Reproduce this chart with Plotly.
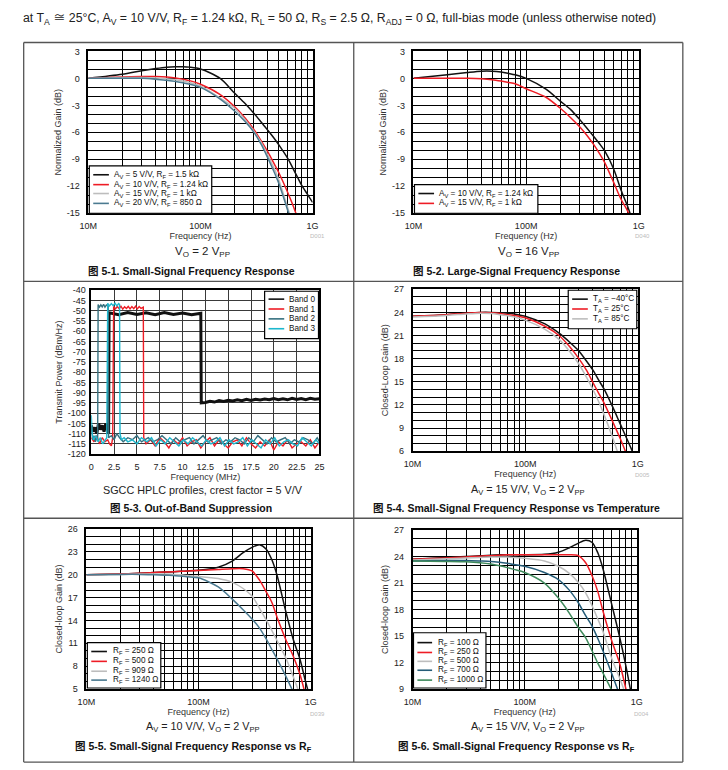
import plotly.graph_objects as go

W, H = 728, 770
FONT = "Liberation Sans, Arial, Noto Sans CJK SC, sans-serif"

# ---------------- data ----------------
FREQ_MHZ = [10, 20, 30, 40, 50, 60, 70, 80, 100, 150, 200, 250, 300, 350, 400, 450, 500, 600, 700, 800, 900, 1000]
FREQ_TICKS = [10, 100, 1000]
FREQ_TICK_TEXT = ["10M", "100M", "1G"]
FREQ_MINOR = [20, 30, 40, 50, 60, 70, 80, 90, 200, 300, 400, 500, 600, 700, 800, 900]

# Fig 5-1 (normalized gain, dB)
G1_AV5 = [0, 0.45, 0.85, 1.1, 1.25, 1.3, 1.3, 1.25, 1.05, 0.0, -1.6, -2.8, -3.9, -4.9, -5.8, -6.6, -7.4, -8.9, -10.5, -11.9, -12.9, -13.8]
G1_AV10 = [0, 0.15, 0.2, 0.2, 0.15, 0.05, -0.1, -0.25, -0.65, -1.8, -3.1, -4.4, -5.7, -7.0, -8.2, -9.4, -10.5, -12.7, -14.8, -17.0, None, None]
G1_AV15 = [0, 0.1, 0.1, 0.05, -0.05, -0.15, -0.3, -0.45, -0.85, -2.2, -3.3, -4.6, -5.9, -7.2, -8.6, -9.9, -11.3, -14.4, -17.0, None, None, None]
G1_AV20 = [0, 0.02, 0.0, -0.1, -0.2, -0.35, -0.5, -0.65, -1.0, -2.3, -3.6, -4.8, -6.0, -7.4, -8.9, -10.3, -11.7, -14.7, -17.5, None, None, None]

# Fig 5-2 (normalized gain, dB)
G2_AV10 = [0, 0.4, 0.65, 0.8, 0.8, 0.7, 0.55, 0.4, 0.0, -1.2, -2.5, -3.5, -4.6, -5.6, -6.5, -7.3, -8.1, -10.1, -12.5, -14.3, -16.2, None]
G2_AV15 = [0, 0.02, 0.0, -0.05, -0.15, -0.3, -0.45, -0.6, -1.15, -2.1, -3.3, -4.4, -5.4, -6.4, -7.4, -8.4, -9.4, -11.6, -13.5, -14.8, -16.5, None]

# Fig 5-3 (transmit power, dBm/Hz vs MHz)
B0_F = [0, 0.2, 0.4, 0.6, 0.8, 1.0, 1.2, 1.4, 1.6, 1.8, 1.9,
        1.95, 3, 4, 5, 6, 7, 8, 9, 10, 11, 12.0,
        12.05, 12.5, 13.0, 13.5, 14.0, 14.5, 15.0, 15.5, 16.0, 16.5, 17.0, 17.5, 18.0, 18.5,
        19.0, 19.5, 20.0, 20.5, 21.0, 21.5, 22.0, 22.5, 23.0, 23.5, 24.0, 24.5, 25.0]
B0_P = [-106, -109, -107, -110, -105, -108, -106, -109, -105, -108, -110,
        -51.0, -51.9, -50.9, -51.8, -51.0, -51.9, -50.9, -51.8, -51.1, -51.9, -51.2,
        -95, -94.8, -94.2, -94.6, -93.9, -94.3, -93.7, -94.1, -93.5, -93.9, -93.3, -93.8, -93.2, -93.6,
        -93.1, -93.5, -92.9, -93.4, -93.0, -93.5, -92.8, -93.3, -92.9, -93.4, -92.8, -93.2, -93.0]

B1_F = [0, 0.3, 0.6, 0.9, 1.2, 1.5, 1.8, 2.0, 2.2, 2.35,
        2.45, 2.65, 2.85, 3.05, 3.25, 3.45, 3.65, 3.85, 4.05, 4.25, 4.45, 4.65, 4.85, 5.05, 5.25, 5.45, 5.7,
        5.75, 6.0, 6.5, 7.0, 7.5, 8.0, 8.5, 9.0, 9.5, 10.0, 10.5, 11.0, 11.5, 12.0, 12.5, 13.0,
        13.5, 14.0, 14.5, 15.0, 15.5, 16.0, 16.5, 17.0, 17.5, 18.0, 18.5, 19.0, 19.5, 20.0, 20.5,
        21.0, 21.5, 22.0, 22.5, 23.0, 23.5, 24.0, 24.5, 25.0]
B1_P = [-112, -114, -111, -115, -112, -114, -113, -115, -116, -112,
        -47.9, -49.1, -48.0, -49.0, -47.8, -49.2, -48.1, -48.9, -47.9, -49.1, -48.0, -49.0, -47.8, -49.1, -48.0, -48.9, -48.3,
        -112, -115, -113, -116, -112, -114, -117, -113, -115, -112, -116, -114, -113, -117, -114, -112,
        -116, -113, -115, -117, -114, -113, -116, -112, -115, -117, -114, -116, -113, -118, -114,
        -116, -113, -117, -115, -114, -116, -113, -117, -114]

B2_F = [0, 0.15, 0.3, 0.45, 0.6, 0.7,
        0.75, 0.9, 1.05, 1.2, 1.35, 1.5, 1.65, 1.85,
        1.9, 2.2, 2.5, 2.8, 3.1, 3.5, 4.0, 4.5, 5.0, 5.5,
        6.25, 6.75, 7.25, 7.75, 8.25, 8.75, 9.25, 9.75, 10.25, 10.75, 11.25, 11.75, 12.25, 12.75, 13.25,
        13.75, 14.25, 14.75, 15.25, 15.75, 16.25, 16.75, 17.25, 17.75, 18.25, 18.75, 19.25, 19.75, 20.25, 20.75,
        21.25, 21.75, 22.25, 22.75, 23.25, 23.75, 24.25, 24.75, 25.0]
B2_P = [-108, -113, -111, -114, -112, -113,
        -47.0, -48.2, -47.1, -48.1, -46.9, -48.2, -47.2, -47.8,
        -112, -111, -113, -110, -112, -114, -112, -113, -111, -114,
        -112, -114, -113, -111, -113, -115, -112, -114, -113, -112, -115, -113, -111, -114, -113,
        -112, -115, -113, -114, -112, -113, -115, -112, -114, -111, -113, -115, -112, -114, -113,
        -112, -115, -113, -114, -112, -113, -115, -112, -114]

B3_F = [0, 0.1, 0.25, 0.5, 0.75, 1.0, 1.25, 1.5, 1.7,
        1.8, 2.0, 2.2, 2.4, 2.6, 2.8, 3.0, 3.1,
        3.15, 3.3, 3.6, 4.0, 4.5, 5.0, 5.5,
        6.1, 6.6, 7.1, 7.6, 8.1, 8.6, 9.1, 9.6, 10.1, 10.6, 11.1, 11.6, 12.1, 12.6, 13.1,
        13.6, 14.1, 14.6, 15.1, 15.6, 16.1, 16.6, 17.1, 17.6, 18.1, 18.6, 19.1, 19.6, 20.1, 20.6,
        21.1, 21.6, 22.1, 22.6, 23.1, 23.6, 24.1, 24.6, 25.0]
B3_P = [-101, -110, -113, -111, -114, -112, -115, -113, -112,
        -46.4, -47.6, -46.5, -47.5, -46.3, -47.6, -46.5, -47.0,
        -110, -113, -112, -114, -113, -115, -112,
        -114, -112, -116, -113, -115, -112, -114, -116, -113, -115, -112, -114, -116, -113, -115,
        -114, -112, -116, -113, -115, -114, -112, -116, -113, -115, -117, -113, -115, -112, -116,
        -114, -113, -115, -116, -112, -114, -116, -113, -115]

MHZ_TICKS = [0, 2.5, 5, 7.5, 10, 12.5, 15, 17.5, 20, 22.5, 25]
DBM_TICKS = [-120, -115, -110, -105, -100, -95, -90, -85, -80, -75, -70, -65, -60, -55, -50, -45, -40]

# Fig 5-4 (closed-loop gain, dB)
G4_M40 = [23.5, 23.7, 23.9, 24.0, 24.0, 23.95, 23.9, 23.8, 23.5, 22.5, 21.3, 20.1, 19.0, 17.7, 16.5, 15.2, 14.1, 11.7, 9.5, 7.6, 5.9, None]
G4_25 = [23.5, 23.7, 23.9, 24.0, 23.95, 23.85, 23.7, 23.6, 23.3, 22.2, 21.0, 19.5, 18.0, 16.5, 14.9, 13.5, 12.3, 9.8, 7.6, 5.5, None, None]
G4_85 = [23.4, 23.6, 23.8, 23.9, 23.85, 23.7, 23.55, 23.4, 23.0, 21.8, 20.5, 18.9, 17.3, 15.6, 14.0, 12.4, 10.8, 7.7, 4.8, None, None, None]

# Fig 5-5 (closed-loop gain, dB)
G5_250 = [20.0, 20.1, 20.2, 20.3, 20.35, 20.4, 20.45, 20.5, 20.6, 21.0, 21.8, 22.9, 23.6, 23.95, 23.4, 22.0, 20.0, 15.2, 11.5, 9.0, 6.0, 3.5]
G5_500 = [20.0, 20.1, 20.2, 20.3, 20.35, 20.4, 20.45, 20.5, 20.55, 20.7, 20.8, 20.8, 20.5, 19.3, 17.8, 16.4, 14.5, 11.5, 9.3, 7.0, 4.2, None]
G5_909 = [20.0, 20.05, 20.1, 20.1, 20.1, 20.05, 20.0, 19.9, 19.8, 19.5, 19.0, 18.2, 17.2, 15.6, 14.1, 12.7, 11.4, 9.1, 6.6, 4.3, None, None]
G5_1240 = [20.0, 20.05, 20.05, 20.0, 19.95, 19.9, 19.85, 19.75, 19.6, 18.4, 16.8, 15.4, 14.2, 13.0, 11.6, 10.2, 9.0, 6.7, 4.6, None, None, None]

# Fig 5-6 (closed-loop gain, dB)
G6_100 = [23.7, 23.9, 24.0, 24.1, 24.15, 24.2, 24.2, 24.2, 24.2, 24.25, 24.5, 25.0, 25.5, 25.85, 25.6, 24.4, 22.6, 18.5, 15.0, 11.6, 8.2, None]
G6_250 = [23.7, 23.85, 23.95, 24.05, 24.1, 24.15, 24.2, 24.2, 24.2, 24.2, 24.2, 24.2, 24.1, 23.3, 21.8, 20.0, 17.8, 14.4, 12.0, 9.0, 6.0, None]
G6_500 = [23.6, 23.75, 23.85, 23.9, 23.95, 23.95, 23.95, 23.9, 23.8, 23.5, 22.9, 22.1, 21.1, 19.9, 18.4, 16.9, 15.5, 12.4, 10.3, 8.3, None, None]
G6_700 = [23.5, 23.55, 23.55, 23.5, 23.45, 23.35, 23.25, 23.1, 22.9, 22.2, 21.4, 20.2, 18.8, 17.3, 16.1, 14.7, 13.3, 10.7, 8.4, None, None, None]
G6_1000 = [23.5, 23.45, 23.4, 23.3, 23.15, 22.95, 22.75, 22.55, 22.2, 21.0, 19.3, 17.6, 16.0, 14.8, 13.3, 11.9, 10.8, 8.8, 6.8, None, None, None]

Y1_TICKS = [-15, -12, -9, -6, -3, 0, 3]
Y4_TICKS = [6, 9, 12, 15, 18, 21, 24, 27]
Y5_TICKS = [5, 8, 11, 14, 17, 20, 23, 26]
Y6_TICKS = [9, 12, 15, 18, 21, 24, 27]

# ---------------- styles ----------------
BLACK = "#111111"
RED = "#EE1C25"
GRAY = "#BDBDBD"
SLATE = "#4B7A90"
TEAL = "#35707F"
CYAN = "#1DB7CD"
NAVY = "#255C78"
GREEN = "#3F8A5C"

# plot-area pixel boxes: (left, right, top, bottom)
PANELS = {
    1: (81, 310, 47, 211),
    2: (413, 643, 47, 211),
    3: (84, 317, 289, 455),
    4: (412, 642, 288, 452),
    5: (79, 308, 531, 693),
    6: (412, 641, 532, 693),
}


def px(x):
    return x / W


def py(y):
    return 1 - y / H


fig = go.Figure()


def ax(n, kind):
    return kind if n == 1 else f"{kind}{n}"


def add_line(n, xs, ys, name, color, width=1.5, shape="spline"):
    fig.add_trace(go.Scatter(
        x=xs, y=ys, mode="lines", name=name, showlegend=False,
        line=dict(color=color, width=width, shape=shape, smoothing=0.8),
        xaxis=ax(n, "x"), yaxis=ax(n, "y"), connectgaps=False,
        hoverinfo="skip"))


add_line(1, FREQ_MHZ, G1_AV5, "Av=5", BLACK)
add_line(1, FREQ_MHZ, G1_AV10, "Av=10", RED)
add_line(1, FREQ_MHZ, G1_AV15, "Av=15", GRAY)
add_line(1, FREQ_MHZ, G1_AV20, "Av=20", SLATE)

add_line(2, FREQ_MHZ, G2_AV10, "Av=10", BLACK)
add_line(2, FREQ_MHZ, G2_AV15, "Av=15", RED)

add_line(3, B0_F, B0_P, "Band 0", BLACK, 3.0, "linear")
add_line(3, B1_F, B1_P, "Band 1", RED, 1.4, "linear")
add_line(3, B2_F, B2_P, "Band 2", TEAL, 1.4, "linear")
add_line(3, B3_F, B3_P, "Band 3", CYAN, 1.4, "linear")

add_line(4, FREQ_MHZ, G4_M40, "-40C", BLACK)
add_line(4, FREQ_MHZ, G4_25, "25C", RED)
add_line(4, FREQ_MHZ, G4_85, "85C", GRAY)

add_line(5, FREQ_MHZ, G5_250, "250", BLACK)
add_line(5, FREQ_MHZ, G5_500, "500", RED)
add_line(5, FREQ_MHZ, G5_909, "909", GRAY)
add_line(5, FREQ_MHZ, G5_1240, "1240", SLATE)

add_line(6, FREQ_MHZ, G6_100, "100", BLACK)
add_line(6, FREQ_MHZ, G6_250, "250", RED)
add_line(6, FREQ_MHZ, G6_500, "500", GRAY)
add_line(6, FREQ_MHZ, G6_700, "700", NAVY)
add_line(6, FREQ_MHZ, G6_1000, "1000", GREEN)

TICKFONT = dict(family=FONT, size=9, color="#222222")
TITLEFONT = dict(family=FONT, size=9, color="#333333")

layout = dict(
    width=W, height=H, margin=dict(l=0, r=0, t=0, b=0),
    paper_bgcolor="white", plot_bgcolor="white", showlegend=False,
    font=dict(family=FONT, color="#222222"),
)

YSPEC = {
    1: (Y1_TICKS, [-15, 3], "Normalized Gain (dB)"),
    2: (Y1_TICKS, [-15, 3], "Normalized Gain (dB)"),
    3: (DBM_TICKS, [-120, -40], "Transmit Power (dBm/Hz)"),
    4: (Y4_TICKS, [6, 27], "Closed-Loop Gain (dB)"),
    5: (Y5_TICKS, [5, 26], "Closed-loop Gain (dB)"),
    6: (Y6_TICKS, [9, 27], "Closed-loop Gain (dB)"),
}

for n, (l, r, t, b) in PANELS.items():
    xk = "xaxis" if n == 1 else f"xaxis{n}"
    yk = "yaxis" if n == 1 else f"yaxis{n}"
    common = dict(showline=True, mirror=True, linecolor="black", linewidth=1.5,
                  showgrid=True, zeroline=False, ticks="", tickfont=TICKFONT)
    if n == 3:
        layout[xk] = dict(common, domain=[px(l), px(r)], anchor=ax(n, "y"),
                          range=[0, 25], tickmode="array", tickvals=MHZ_TICKS,
                          ticktext=[str(v) for v in MHZ_TICKS],
                          gridcolor="#3a3a3a", gridwidth=1,
                          ticklabelstandoff=3,
                          title=dict(text="Frequency (MHz)", font=TITLEFONT, standoff=0))
    else:
        layout[xk] = dict(common, domain=[px(l), px(r)], anchor=ax(n, "y"),
                          type="log", range=[1, 3], tickmode="array",
                          tickvals=FREQ_TICKS, ticktext=FREQ_TICK_TEXT,
                          gridcolor="black", gridwidth=1,
                          minor=dict(tickmode="array", tickvals=FREQ_MINOR, showgrid=True,
                                     gridcolor="black", gridwidth=1, ticks=""),
                          ticklabelstandoff=3,
                          title=dict(text="Frequency (Hz)", font=TITLEFONT, standoff=2))
    ticks, rng, title = YSPEC[n]
    ydict = dict(common, domain=[py(b), py(t)], anchor=ax(n, "x"), range=rng,
                 tickmode="array", tickvals=ticks, ticktext=[str(v) for v in ticks],
                 ticklabelstandoff=5,
                 title=dict(text=title, font=TITLEFONT, standoff=4))
    if n == 3:
        ydict.update(gridcolor="#3a3a3a", gridwidth=1, ticklabelstandoff=2)
    else:
        ydict.update(gridcolor="black", gridwidth=1,
                     minor=dict(dtick=1, tick0=0, showgrid=True, gridcolor="black",
                                gridwidth=1, ticks=""))
    layout[yk] = ydict

fig.update_layout(**layout)

# ---------------- manual compact legends ----------------
LEGENDS = [
    # (box l, r, t, b), line x0, x1, text x, entry y's, labels, colors
    ((82, 207, 163, 211), 86, 102, 105, [172, 182, 191, 201],
     ["A<sub>V</sub> = 5 V/V, R<sub>F</sub> = 1.5 kΩ",
      "A<sub>V</sub> = 10 V/V, R<sub>F</sub> = 1.24 kΩ",
      "A<sub>V</sub> = 15 V/V, R<sub>F</sub> = 1 kΩ",
      "A<sub>V</sub> = 20 V/V, R<sub>F</sub> = 850 Ω"],
     [BLACK, RED, GRAY, SLATE]),
    ((414, 540, 182, 211), 418, 434, 437, [191, 201],
     ["A<sub>V</sub> = 10 V/V, R<sub>F</sub> = 1.24 kΩ",
      "A<sub>V</sub> = 15 V/V, R<sub>F</sub> = 1 kΩ"],
     [BLACK, RED]),
    ((261, 316, 290, 338), 265, 281, 284, [298, 308, 318, 328],
     ["Band 0", "Band 1", "Band 2", "Band 3"],
     [BLACK, RED, TEAL, CYAN]),
    ((571, 641, 289, 328), 575, 591, 594, [298, 308, 318],
     ["T<sub>A</sub> = −40°C", "T<sub>A</sub> = 25°C", "T<sub>A</sub> = 85°C"],
     [BLACK, RED, GRAY]),
    ((80, 155, 646, 692), 84, 100, 104, [655, 665, 675, 684],
     ["R<sub>F</sub> = 250 Ω", "R<sub>F</sub> = 500 Ω", "R<sub>F</sub> = 909 Ω", "R<sub>F</sub> = 1240 Ω"],
     [BLACK, RED, GRAY, SLATE]),
    ((413, 487, 636, 692), 417, 432, 436, [646, 656, 665, 674, 684],
     ["R<sub>F</sub> = 100 Ω", "R<sub>F</sub> = 250 Ω", "R<sub>F</sub> = 500 Ω",
      "R<sub>F</sub> = 700 Ω", "R<sub>F</sub> = 1000 Ω"],
     [BLACK, RED, GRAY, NAVY, GREEN]),
]

for i, ((bl, br, bt, bb), lx0, lx1, tx, ys, labels, colors) in enumerate(LEGENDS):
    fsize = 8.2
    fig.add_shape(type="rect", xref="paper", yref="paper",
                  x0=px(bl), x1=px(br), y0=py(bb), y1=py(bt),
                  line=dict(color="black", width=1.2), fillcolor="white", layer="above")
    for yy, lab, col in zip(ys, labels, colors):
        fig.add_shape(type="line", xref="paper", yref="paper",
                      x0=px(lx0), x1=px(lx1), y0=py(yy), y1=py(yy),
                      line=dict(color=col, width=1.6), layer="above")
        fig.add_annotation(x=px(tx), y=py(yy), xref="paper", yref="paper",
                           text=lab, showarrow=False, xanchor="left", yanchor="middle",
                           font=dict(family=FONT, size=fsize, color="#111111"))

# ---------------- frame / header / captions ----------------
LINE_COL = "#555555"
for (x0, y0, x1, y1) in [(15, 38, 688, 38), (15, 280, 688, 280), (15, 520, 688, 520),
                         (15, 767, 688, 767), (15, 38, 15, 767), (352, 38, 352, 767),
                         (688, 38, 688, 767)]:
    fig.add_shape(type="line", xref="paper", yref="paper",
                  x0=px(x0), x1=px(x1), y0=py(y0), y1=py(y1),
                  line=dict(color=LINE_COL, width=1.3))

HEADER = ("at T<sub>A</sub> ≅ 25°C, A<sub>V</sub> = 10 V/V, R<sub>F</sub> = 1.24 kΩ, "
          "R<sub>L</sub> = 50 Ω, R<sub>S</sub> = 2.5 Ω, R<sub>ADJ</sub> = 0 Ω, "
          "full-bias mode (unless otherwise noted)")
fig.add_annotation(x=px(12), y=py(14), xref="paper", yref="paper", text=HEADER,
                   showarrow=False, xanchor="left", yanchor="middle",
                   font=dict(family=FONT, size=12.3, color="#222222"))

SUBCAPTIONS = [
    (198, 250, "V<sub>O</sub> = 2 V<sub>PP</sub>", 11.5),
    (530, 250, "V<sub>O</sub> = 16 V<sub>PP</sub>", 11.5),
    (198, 491, "SGCC HPLC profiles, crest factor = 5 V/V", 10.8),
    (530, 491, "A<sub>V</sub> = 15 V/V, V<sub>O</sub> = 2 V<sub>PP</sub>", 10.8),
    (198, 732, "A<sub>V</sub> = 10 V/V, V<sub>O</sub> = 2 V<sub>PP</sub>", 10.8),
    (530, 732, "A<sub>V</sub> = 15 V/V, V<sub>O</sub> = 2 V<sub>PP</sub>", 10.8),
]
for x, y, t, s in SUBCAPTIONS:
    fig.add_annotation(x=px(x), y=py(y), xref="paper", yref="paper", text=t,
                       showarrow=False, xanchor="center", yanchor="middle",
                       font=dict(family=FONT, size=s, color="#222222"))

CAPTIONS = [
    (186, 269, "<b>图 5-1. Small-Signal Frequency Response</b>"),
    (518, 269, "<b>图 5-2. Large-Signal Frequency Response</b>"),
    (186, 510, "<b>图 5-3. Out-of-Band Suppression</b>"),
    (518, 510, "<b>图 5-4. Small-Signal Frequency Response vs Temperature</b>"),
    (188, 752, "<b>图 5-5. Small-Signal Frequency Response vs R<sub>F</sub></b>"),
    (518, 752, "<b>图 5-6. Small-Signal Frequency Response vs R<sub>F</sub></b>"),
]
for x, y, t in CAPTIONS:
    fig.add_annotation(x=px(x), y=py(y), xref="paper", yref="paper", text=t,
                       showarrow=False, xanchor="center", yanchor="middle",
                       font=dict(family=FONT, size=10.5, color="#111111"))

DCODES = [(315, 234, "D001"), (647, 234, "D040"), (647, 476, "D005"),
          (315, 718, "D039"), (646, 718, "D004")]
for x, y, t in DCODES:
    fig.add_annotation(x=px(x), y=py(y), xref="paper", yref="paper", text=t,
                       showarrow=False, xanchor="center", yanchor="middle",
                       font=dict(family=FONT, size=6, color="#BBBBBB"))

fig.write_html("out.html",
               config={"displayModeBar": False},
               post_script="document.body.style.margin='0px';document.body.style.overflow='hidden';")
